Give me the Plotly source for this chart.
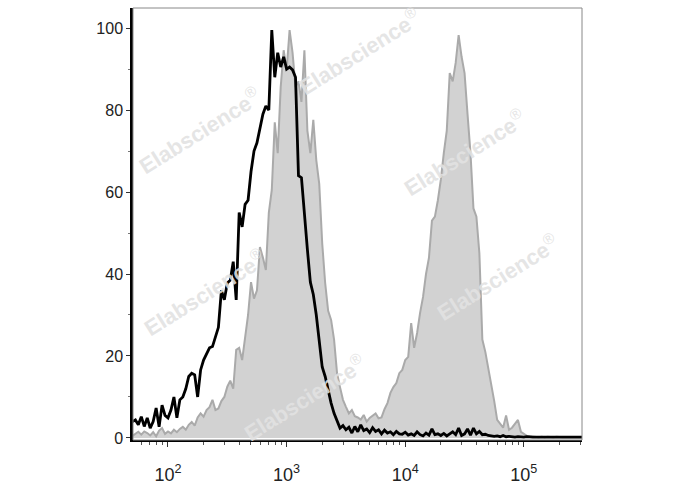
import numpy as np
import plotly.graph_objects as go

# bin centres in log10 decades (uniform histogram bins)
log_start = 1.700
log_step = 0.025

stained = [
    0.5, 1.0, 1.5, 0.8, 1.6, 1.2, 0.6, 1.4, 0.4, 1.8,
    2.4, 1.0, 1.6, 1.1, 2.0, 1.4, 2.2, 2.7, 2.0, 3.2,
    3.9, 3.0, 5.0, 6.0, 5.2, 6.8, 7.5, 9.3, 6.8, 7.2,
    9.0, 10.0, 12.5, 14.0, 12.0, 21.5, 22.0, 19.0, 24.0, 30.0,
    38.0, 34.0, 36.0, 46.6, 44.0, 41.0, 55.0, 60.5, 77.0, 69.5,
    85.6, 94.6, 89.8, 99.5, 94.0, 85.6, 87.0, 82.0, 94.6, 75.0,
    69.5, 77.6, 67.8, 62.0, 47.5, 37.8, 31.0, 28.8, 24.0, 15.8,
    12.4, 9.3, 7.6, 6.0, 6.8, 5.3, 5.0, 4.5, 5.6, 4.0,
    4.9, 5.5, 6.0, 4.8, 5.0, 7.0, 8.5, 11.0, 12.4, 13.4,
    15.8, 16.6, 19.0, 19.8, 28.0, 22.0, 25.6, 30.5, 34.4, 40.0,
    44.0, 53.0, 54.0, 58.0, 63.0, 69.5, 75.0, 89.0, 87.0, 91.5,
    98.3, 93.0, 89.0, 79.0, 69.5, 56.0, 54.0, 45.0, 24.0, 21.0,
    17.0, 14.0, 9.0, 4.4, 3.5, 2.5, 5.5, 2.0, 2.5, 3.5,
    4.4, 1.5, 1.0, 0.5, 0.4, 0.3, 0.3, 0.2, 0.3, 0.2,
    0.3, 0.2, 0.2, 0.3, 0.2, 0.2, 0.2, 0.2, 0.2, 0.2,
    0.2, 0.2, 0.2,
]

control = [
    4.0, 4.4, 3.2, 5.2, 2.8, 4.9, 2.4, 4.0, 7.3, 2.7,
    8.0, 5.5, 4.9, 6.8, 10.0, 4.9, 9.3, 10.0, 12.0, 15.0,
    15.8, 15.4, 10.0, 16.6, 19.0, 20.5, 22.0, 22.3, 25.0, 27.0,
    36.0, 33.7, 37.8, 38.5, 43.0, 33.7, 55.0, 51.5, 57.0, 58.0,
    65.0, 70.0, 72.0, 76.0, 79.0, 81.0, 80.0, 99.5, 88.0, 94.0,
    90.5, 93.0, 90.0, 90.5, 89.8, 88.0, 64.0, 63.5, 54.0, 46.0,
    38.0, 35.0, 30.0, 24.0, 17.3, 15.0, 11.7, 8.5, 6.0, 4.4,
    2.4, 3.0, 2.0, 2.6, 1.2, 2.8, 1.5, 3.2, 1.8, 2.2,
    1.3, 2.5, 1.6, 2.0, 1.0, 1.9, 1.2, 1.5, 0.8, 1.6,
    1.0, 0.9, 1.4, 0.7, 1.0, 0.6, 1.5, 0.8, 0.5, 1.2,
    0.7, 2.2, 0.8, 1.0, 0.6, 1.1, 0.5, 1.0, 1.5, 0.8,
    2.4, 0.6, 1.0, 2.2, 0.7, 2.4, 1.0, 1.6, 0.8, 0.9,
    0.6, 0.5, 0.4, 0.5, 0.3, 0.6, 0.3, 0.4, 0.3, 0.2,
    0.3, 0.2, 0.2, 0.3, 0.2, 0.2, 0.2, 0.2, 0.2, 0.2,
    0.2, 0.2, 0.2, 0.2, 0.2, 0.2, 0.2, 0.2, 0.2, 0.2,
    0.2, 0.2, 0.2,
]

x_tick_vals = [100, 1000, 10000, 100000]
x_tick_text = ["10<sup>2</sup>", "10<sup>3</sup>", "10<sup>4</sup>", "10<sup>5</sup>"]
y_tick_vals = [0, 20, 40, 60, 80, 100]

watermark_pos = [(0.149, 0.718), (0.505, 0.900), (0.739, 0.667),
                 (0.811, 0.378), (0.160, 0.343), (0.383, 0.100)]

n = len(stained)
log_x = log_start + log_step * np.arange(n)
x = 10 ** log_x

fig = go.Figure()
fig.add_trace(go.Scatter(
    x=x, y=stained, mode="lines", fill="tozeroy",
    fillcolor="#d2d2d2", line=dict(color="#aaaaaa", width=2),
    showlegend=False, hoverinfo="skip"))
fig.add_trace(go.Scatter(
    x=x[:len(control)], y=control, mode="lines",
    line=dict(color="black", width=2.8),
    showlegend=False, hoverinfo="skip"))

for (px, py) in watermark_pos:
    fig.add_annotation(
        x=px, y=py, xref="paper", yref="paper",
        text="<b>Elabscience</b><sup>®</sup>", showarrow=False, textangle=-32,
        font=dict(family="Arial, Liberation Sans", size=22, color="rgba(226,226,226,0.9)"),
        xanchor="center", yanchor="middle")

# top/right frame in gray
fig.add_shape(type="rect", xref="paper", yref="paper", x0=0, y0=0, x1=1, y1=1,
              line=dict(color="#888888", width=1), layer="above")

fig.update_xaxes(
    type="log", range=[1.705, 5.49],
    tickvals=x_tick_vals, ticktext=x_tick_text,
    ticks="outside", ticklen=5, tickcolor="#333", tickwidth=1,
    ticklabelstandoff=12,
    minor=dict(ticks="outside", ticklen=3, tickcolor="#555",
               tickvals=[v * m for v in [10, 100, 1000, 10000, 100000] for m in range(2, 10)]),
    showline=True, linecolor="black", linewidth=2,
    showgrid=False, zeroline=False,
    tickfont=dict(family="Arial, Liberation Sans", size=18, color="#222"),
)
fig.update_yaxes(
    range=[-0.5, 104.9],
    tickvals=y_tick_vals,
    ticks="outside", ticklen=4, tickcolor="#333", tickwidth=1,
    minor=dict(ticks="outside", ticklen=2, tickcolor="#777", dtick=10),
    showline=True, linecolor="black", linewidth=2.5,
    showgrid=False, zeroline=False,
    tickfont=dict(family="Arial, Liberation Sans", size=16, color="#222"),
)

fig.update_layout(
    width=688, height=490,
    margin=dict(l=133, r=106, t=8, b=50, autoexpand=False),
    paper_bgcolor="white", plot_bgcolor="white",
    showlegend=False,
)

fig.write_html("out.html", config={"displayModeBar": False},
               post_script="document.body.style.margin='0';")
